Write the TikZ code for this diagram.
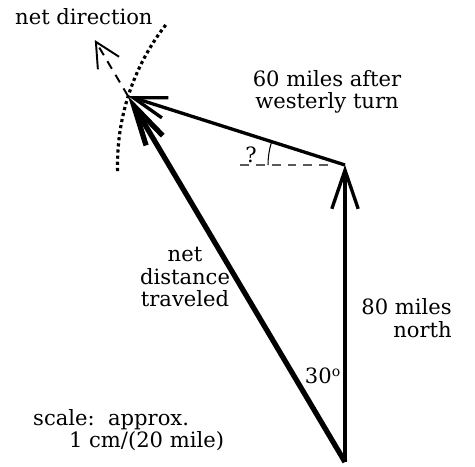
\documentclass[tikz,border=0pt]{standalone}
\usepackage{fontspec}
\setmainfont{DejaVu Serif}
\usepackage{tikz}
\usetikzlibrary{arrows.meta,calc}
\definecolor{guidegray}{RGB}{90,90,90}

\begin{document}
\begin{tikzpicture}[font=\fontsize{12}{12.8}\selectfont]
  \useasboundingbox (0,0) rectangle (9.5,9.32);
  % legs of the trip
  \coordinate (start) at (6.9,0.08);
  \coordinate (turn) at (6.9,6.02);
  \coordinate (finish) at (2.56,7.4);
  \coordinate (ahead) at ($(start)!1.153!(finish)$);
  \draw[line width=1.9pt,-{Straight Barb[length=22pt,width=15pt]}] (start) -- (turn);
  \draw[line width=1.9pt,-{Straight Barb[length=19pt,width=12pt]}] (turn) -- (finish);
  % resultant and its direction
  \draw[line width=3pt,-{Straight Barb[length=23pt,width=11pt]}] (start) -- (finish);
  \draw[line width=1.1pt,dash pattern=on 5pt off 4pt,-{Straight Barb[length=14pt,width=14pt]}] (finish) -- (ahead);
  % 60 mile radius about the turn
  \draw[line width=1.8pt,dash pattern=on 1.8pt off 1.7pt] ($(turn)+(142:4.55)$) arc (142:182:4.55);
  % unknown angle
  \coordinate (west1) at ($(turn)+(-0.34,0)$);
  \coordinate (west2) at ($(turn)+(-2.1,0)$);
  \draw[guidegray,line width=0.9pt,dash pattern=on 5pt off 4pt] (west1) -- (west2);
  \draw[line width=0.6pt] ($(turn)+(180:1.54)$) arc (180:162.4:1.54);
  \node (turnlabel) at (5.02,6.22) {?};
  % labels
  \node[anchor=west] (dirlabel) at (0.18,8.98) {net direction};
  \node[align=center] (leglabel) at (6.54,7.48) {60 miles after\\westerly turn};
  \node[align=center] (netlabel) at (3.7,3.78) {net\\distance\\traveled};
  \node[align=right,anchor=east] (northlabel) at (9.16,2.96) {80 miles\\north};
  \node (anglelabel) at (6.46,1.8) {30\textsuperscript{o}};
  \node[align=left,anchor=west] (scalelabel) at (0.54,0.72) {scale:\ \ approx.\\\hspace*{1.7em}1 cm/(20 mile)};
\end{tikzpicture}
\end{document}
